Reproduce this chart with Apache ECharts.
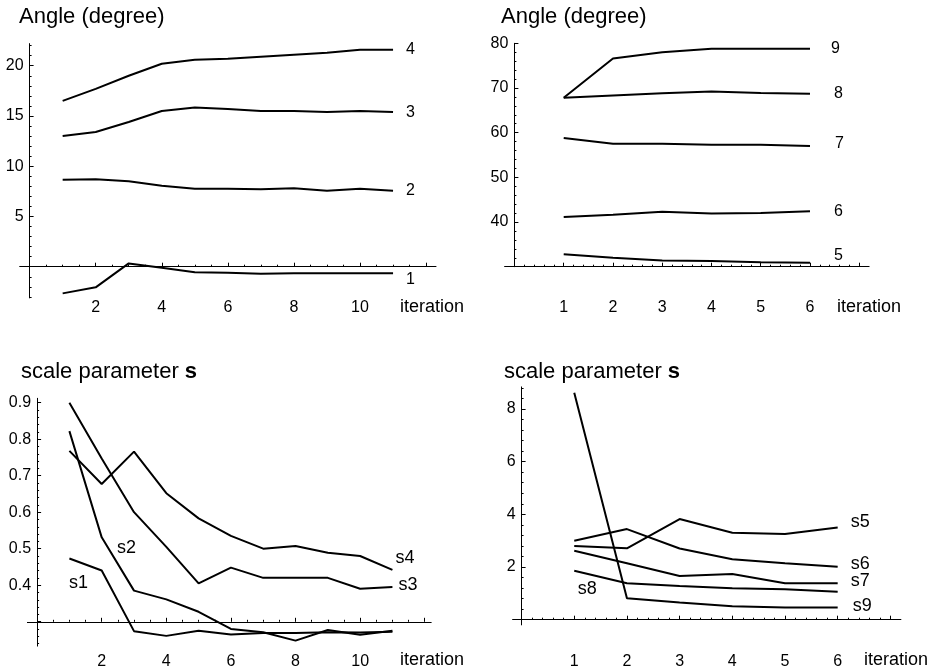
<!DOCTYPE html>
<html>
<head>
<meta charset="utf-8">
<script src="https://cdn.jsdelivr.net/npm/echarts@6/dist/echarts.min.js"></script>
<style>
html, body { margin: 0; padding: 0; background: #fff; }
#main { width: 931px; height: 672px; }
</style>
</head>
<body>
<div id="main"></div>
<script>
// top left: angles 1-4, 11 iterations
var iterA = [1, 2, 3, 4, 5, 6, 7, 8, 9, 10, 11];
var angle1 = [-2.65, -2.05, 0.33, -0.1, -0.55, -0.6, -0.7, -0.65, -0.65, -0.65, -0.65];
var angle2 = [8.65, 8.7, 8.5, 8.05, 7.75, 7.75, 7.7, 7.8, 7.55, 7.75, 7.55];
var angle3 = [13.0, 13.4, 14.4, 15.5, 15.85, 15.7, 15.5, 15.5, 15.4, 15.5, 15.4];
var angle4 = [16.5, 17.7, 19.0, 20.2, 20.6, 20.7, 20.9, 21.1, 21.3, 21.6, 21.6];

// top right: angles 5-9, 6 iterations
var iterB = [1, 2, 3, 4, 5, 6];
var angle5 = [32.8, 32.0, 31.4, 31.3, 31.0, 30.9];
var angle6 = [41.1, 41.6, 42.3, 41.9, 42.0, 42.4];
var angle7 = [58.8, 57.5, 57.5, 57.3, 57.3, 57.0];
var angle8 = [67.8, 68.3, 68.8, 69.2, 68.9, 68.7];
var angle9 = [67.8, 76.6, 78.0, 78.8, 78.8, 78.8];

// bottom left: scale parameter s1-s4
var s1 = [0.473, 0.44, 0.274, 0.261, 0.275, 0.265, 0.269, 0.269, 0.271, 0.27, 0.272];
var s2 = [0.822, 0.531, 0.385, 0.361, 0.327, 0.28, 0.271, 0.248, 0.277, 0.264, 0.275];
var s3 = [0.9, 0.747, 0.6, 0.505, 0.405, 0.448, 0.42, 0.42, 0.42, 0.39, 0.395];
var s4 = [0.768, 0.677, 0.766, 0.652, 0.583, 0.535, 0.5, 0.507, 0.489, 0.48, 0.442];

// bottom right: scale parameter s5-s9
var s5 = [2.8, 2.71, 3.82, 3.3, 3.25, 3.5];
var s6 = [3.0, 3.44, 2.7, 2.29, 2.14, 2.01];
var s7 = [2.62, 2.14, 1.66, 1.73, 1.38, 1.38];
var s8 = [1.86, 1.38, 1.28, 1.19, 1.15, 1.06];
var s9 = [8.62, 0.81, 0.65, 0.51, 0.46, 0.46];

// tick labels shown on each axis
var labelsXA = [2, 4, 6, 8, 10];
var labelsXB = [1, 2, 3, 4, 5, 6];
var labelsY1 = [5, 10, 15, 20];
var labelsY2 = [40, 50, 60, 70, 80];
var labelsY3 = [0.4, 0.5, 0.6, 0.7, 0.8, 0.9];
var labelsY4 = [2, 4, 6, 8];

// major tick marks
var ticksXA = [0, 2, 4, 6, 8, 10, 12];
var ticksXB = [0, 1, 2, 3, 4, 5, 6, 7];
var ticksY1 = [0, 5, 10, 15, 20];
var ticksY2 = [30, 40, 50, 60, 70, 80];
var ticksY3 = [0.3, 0.4, 0.5, 0.6, 0.7, 0.8, 0.9];
var ticksY4 = [0, 2, 4, 6, 8];

var FONT = 'Liberation Sans, Arial, sans-serif';

var dom = document.getElementById('main');
var myChart = echarts.init(dom);

// axis line sits where the other axis crosses; offset is in px from the grid edge
function axis(idx, min, max, split, minor, ticks, labels, margin, offset) {
    return {
        type: 'value', gridIndex: idx, min: min, max: max, splitNumber: split,
        offset: offset,
        axisLine: { onZero: false, lineStyle: { color: '#000', width: 1 } },
        axisTick: { show: true, inside: true, length: 4, customValues: ticks,
            lineStyle: { color: '#000', width: 1 } },
        minorTick: { show: true, splitNumber: minor, length: 2, lineStyle: { color: '#000', width: 1 } },
        splitLine: { show: false },
        axisLabel: { color: '#000', fontSize: 16, fontFamily: FONT, margin: margin, customValues: labels }
    };
}

function pairs(xs, ys) {
    return xs.map(function (x, i) { return [x, ys[i]]; });
}

function line(name, xs, ys, idx, lab) {
    var s = {
        name: name, type: 'line', xAxisIndex: idx, yAxisIndex: idx,
        data: pairs(xs, ys), symbol: 'none', silent: true,
        lineStyle: { color: '#000', width: 2 }
    };
    if (lab.end) {
        s.endLabel = {
            show: true, formatter: name, distance: 0, offset: lab.end,
            color: '#000', fontSize: lab.size, fontFamily: FONT
        };
    }
    if (lab.mark) {
        s.markPoint = {
            symbol: 'circle', symbolSize: 1, silent: true,
            itemStyle: { color: 'rgba(0,0,0,0)' },
            label: { show: true, position: 'inside', formatter: name, offset: lab.mark,
                color: '#000', fontSize: lab.size, fontFamily: FONT },
            data: [{ type: 'max' }]
        };
    }
    return s;
}

function text(t, left, top, size) {
    return {
        text: t, left: left, top: top, padding: 0,
        textStyle: {
            color: '#000', fontSize: size, fontWeight: 'normal', fontFamily: FONT,
            rich: { b: { color: '#000', fontSize: size, fontWeight: 'bold', fontFamily: FONT } }
        }
    };
}

option1 = {
    animation: false,
    backgroundColor: '#fff',
    title: [
        text('Angle (degree)', 19, 6, 22),
        text('Angle (degree)', 501, 6, 22),
        text('scale parameter {b|s}', 21, 361, 22),
        text('scale parameter {b|s}', 504, 361, 22),
        text('iteration', 400, 298, 18),
        text('iteration', 837, 298, 18),
        text('iteration', 400, 651, 18),
        text('iteration', 864, 651, 18)
    ],
    grid: [
        { left: 19.7, top: 43.6, width: 416.3, height: 254.3, outerBoundsMode: 'none' },
        { left: 504.6, top: 43.3, width: 364.5, height: 223.4, outerBoundsMode: 'none' },
        { left: 27.4, top: 398.3, width: 403.8, height: 247.8, outerBoundsMode: 'none' },
        { left: 512.6, top: 386.9, width: 388.3, height: 238.0, outerBoundsMode: 'none' }
    ],
    xAxis: [
        axis(0, -0.3, 12.3, 6, 4, ticksXA, labelsXA, 32.5, -31.2),
        axis(1, -0.2, 7.2, 7, 5, ticksXB, labelsXB, 32.5, 0),
        axis(2, -0.3, 12.2, 6, 4, ticksXA, labelsXA, 31.5, -24.3),
        axis(3, -0.17, 7.2, 7, 5, ticksXB, labelsXB, 33.5, -5.2)
    ],
    yAxis: [
        axis(0, -3.1, 22.2, 5, 5, ticksY1, labelsY1, 6, -9.9),
        axis(1, 30, 80, 5, 5, ticksY2, labelsY2, 6, -9.8),
        axis(2, 0.233, 0.912, 7, 5, ticksY3, labelsY3, 6, -9.7),
        axis(3, -0.2, 8.84, 5, 5, ticksY4, labelsY4, 6, -9.0)
    ],
    series: [
        line('1', iterA, angle1, 0, { end: [13, 6], size: 16 }),
        line('2', iterA, angle2, 0, { end: [13, 0], size: 16 }),
        line('3', iterA, angle3, 0, { end: [13, 1], size: 16 }),
        line('4', iterA, angle4, 0, { end: [13, 0], size: 16 }),

        line('5', iterB, angle5, 1, { end: [24, -7], size: 16 }),
        line('6', iterB, angle6, 1, { end: [24, 0], size: 16 }),
        line('7', iterB, angle7, 1, { end: [25, -2], size: 16 }),
        line('8', iterB, angle8, 1, { end: [24, 0], size: 16 }),
        line('9', iterB, angle9, 1, { end: [21, 0], size: 16 }),

        line('s1', iterA, s1, 2, { mark: [9, 25], size: 18 }),
        line('s2', iterA, s2, 2, { mark: [57, 117], size: 18 }),
        line('s3', iterA, s3, 2, { end: [6, -2], size: 18 }),
        line('s4', iterA, s4, 2, { end: [3, -12], size: 18 }),

        line('s5', iterB, s5, 3, { end: [13, -5], size: 18 }),
        line('s6', iterB, s6, 3, { end: [13, -3], size: 18 }),
        line('s7', iterB, s7, 3, { end: [13, -2], size: 18 }),
        line('s8', iterB, s8, 3, { mark: [13, 18], size: 18 }),
        line('s9', iterB, s9, 3, { end: [15, -1], size: 18 })
    ]
};
myChart.setOption(option1);
</script>
</body>
</html>
